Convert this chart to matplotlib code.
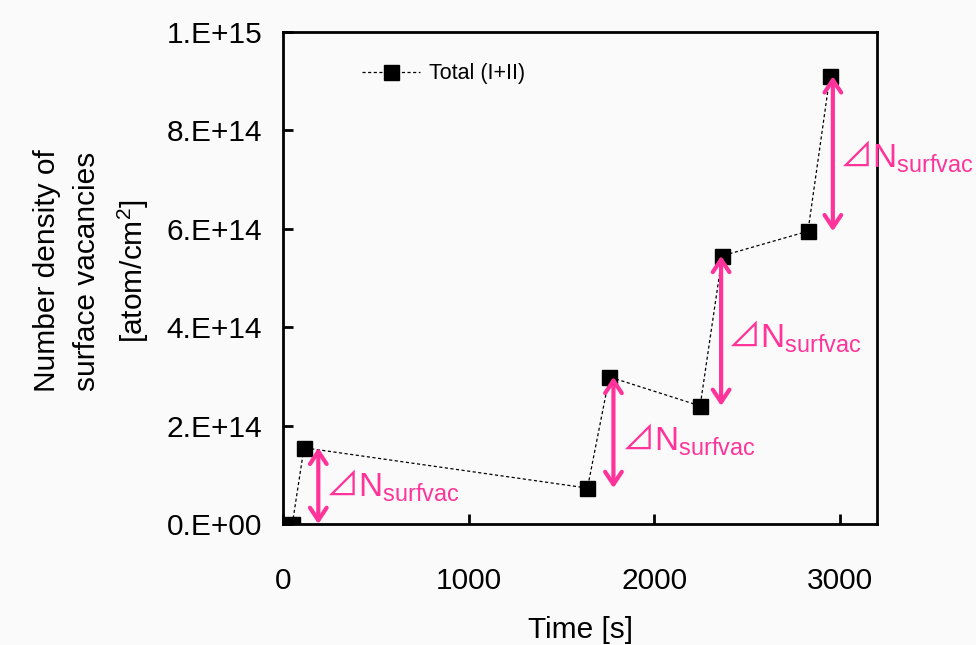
import matplotlib
matplotlib.use("Agg")
import matplotlib.pyplot as plt

plt.rcParams['font.family'] = ['Liberation Sans', 'Noto Sans CJK JP', 'DejaVu Sans']
plt.rcParams['mathtext.fontset'] = 'custom'
plt.rcParams['mathtext.rm'] = 'Liberation Sans'
plt.rcParams['mathtext.it'] = 'Liberation Sans'
plt.rcParams['mathtext.sf'] = 'Noto Sans CJK JP'
plt.rcParams['mathtext.default'] = 'regular'

# Measured number density of surface vacancies over time
time_s = [50, 113, 1640, 1758, 2247, 2366, 2828, 2946]
density = [0.0e14, 1.55e14, 0.73e14, 2.99e14, 2.40e14, 5.45e14, 5.95e14, 9.10e14]

# Jumps in vacancy density marked with double arrows
jump_x = [190, 1780, 2360, 2962]
jump_lo = [0.0e14, 0.73e14, 2.40e14, 5.95e14]
jump_hi = [1.55e14, 2.99e14, 5.45e14, 9.10e14]
jump_label_x = [225, 1821, 2391, 2995]
jump_label_y = [0.55e14, 1.50e14, 3.58e14, 7.25e14]

x_ticks = [0, 1000, 2000, 3000]
y_ticks = [0, 2e14, 4e14, 6e14, 8e14, 1e15]
y_tick_labels = ['0.E+00', '2.E+14', '4.E+14', '6.E+14', '8.E+14', '1.E+15']

pink = '#ff3399'
bg = '#fafafa'

fig = plt.figure(figsize=(9.76, 6.45), dpi=100, facecolor=bg)
ax = fig.add_axes([0.290, 0.1876, 0.6086, 0.7628], facecolor=bg)

ax.plot(time_s, density, color='black', lw=0.9, linestyle=(0, (2.5, 2)),
        marker='s', markersize=10.8, markerfacecolor='black',
        markeredgecolor='black', label='Total (I+II)', zorder=3)

for x, lo, hi in zip(jump_x, jump_lo, jump_hi):
    ax.annotate('', xy=(x, hi), xytext=(x, lo),
                arrowprops=dict(arrowstyle='<->,head_length=0.9,head_width=0.6',
                                lw=3, color=pink, shrinkA=0, shrinkB=0),
                zorder=4)

for x, y in zip(jump_label_x, jump_label_y):
    ax.text(x, y, r'$\mathsf{⊿}$N$_{surfvac}$', color=pink, fontsize=24,
            ha='left', va='baseline', clip_on=False, zorder=5)

ax.set_xlim(0, 3200)
ax.set_ylim(0, 1e15)
ax.set_xticks(x_ticks)
ax.set_xticklabels([str(t) for t in x_ticks])
ax.set_yticks(y_ticks)
ax.set_yticklabels(y_tick_labels)

for s in ax.spines.values():
    s.set_linewidth(2)
ax.tick_params(axis='both', direction='in', length=7, width=2,
               labelsize=21.5, colors='black')
ax.tick_params(axis='x', pad=31)
ax.tick_params(axis='y', pad=15)

ax.set_xlabel('Time [s]', fontsize=21.5, labelpad=15)
fig.text(0.094, 0.580, 'Number density of\nsurface vacancies\n[atom/cm$^2$]',
         rotation=90, ha='center', va='center', fontsize=21.5,
         linespacing=1.55, multialignment='center')

ax.legend(loc='center left', bbox_to_anchor=(0.133, 0.915), frameon=False,
          fontsize=15.5, handlelength=2.7, numpoints=1, borderpad=0,
          borderaxespad=0, handletextpad=0.4)

fig.savefig('out.png', dpi=100, facecolor=bg)
